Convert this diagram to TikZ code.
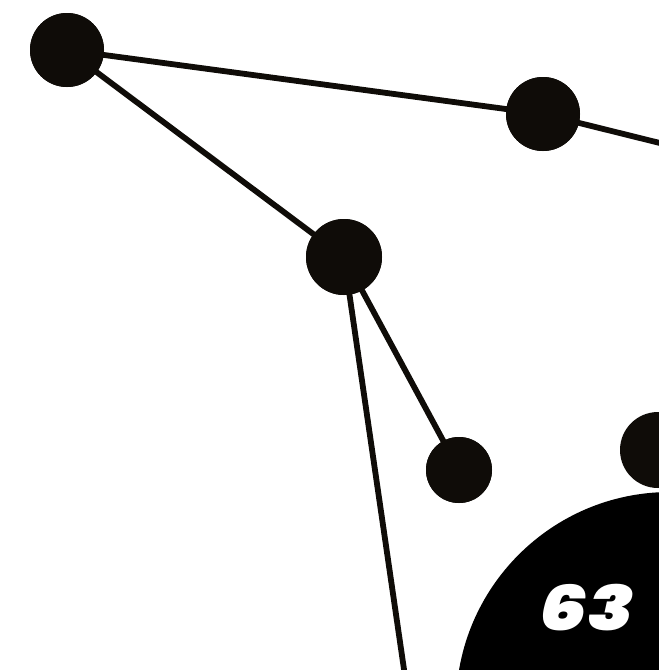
\documentclass[tikz,border=0pt]{standalone}
\usepackage{fontspec}
\newfontfamily\numfont{Poppins Black Italic}
\definecolor{dotc}{HTML}{0F0C08}
\begin{document}
\begin{tikzpicture}[x=1pt,y=-1pt,
  dot/.style={circle,fill=dotc,inner sep=0pt,minimum size=#1},
  link/.style={draw=dotc,line width=5.8pt}]
\useasboundingbox (0,0) rectangle (659,670);
\clip (0,0) rectangle (659,670);
\node[dot=74pt] (a) at (67,50) {};
\node[dot=74pt] (b) at (543,114) {};
\node[dot=76pt] (c) at (344,257) {};
\node[dot=66pt] (d) at (459,470) {};
\node[dot=76pt] (e) at (658,450) {};
\coordinate (bend) at (680,148);
\coordinate (cend) at (407,690);
\draw[link] (a.center) -- (b.center) -- (bend);
\draw[link] (a.center) -- (c.center);
\draw[link] (c.center) -- (d.center);
\draw[link] (c.center) -- (cend);
\node[dot=74pt] at (a) {};
\node[dot=74pt] at (b) {};
\node[dot=76pt] at (c) {};
\node[dot=66pt] at (d) {};
\node[circle,fill=black,inner sep=0pt,minimum size=428pt] (big) at (670,706) {};
\node[text=white,font=\numfont\fontsize{62}{62}\selectfont,anchor=base,xscale=1.22,inner sep=0pt] (num) at (587,630) {63};
\end{tikzpicture}
\end{document}
